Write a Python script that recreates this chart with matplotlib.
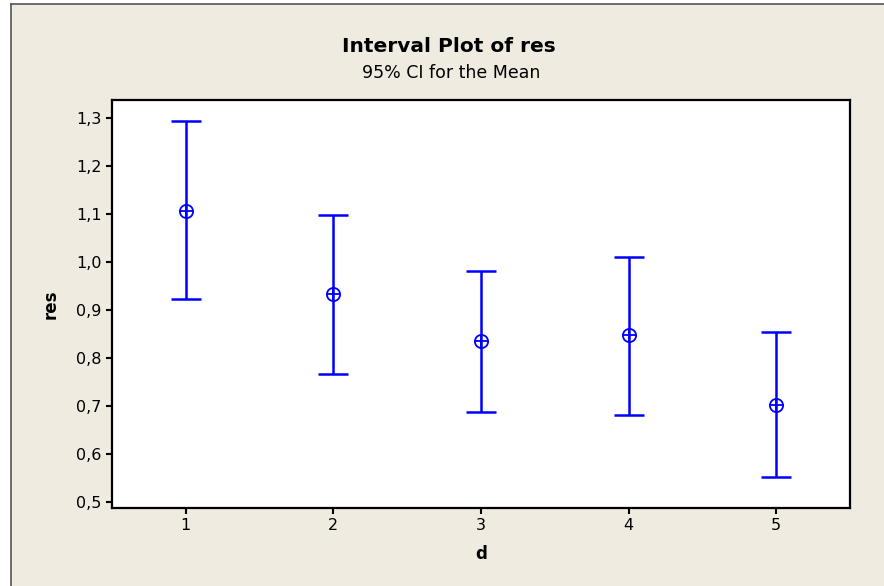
import matplotlib
matplotlib.use("Agg")
import matplotlib.pyplot as plt
from matplotlib.patches import Rectangle
from matplotlib.lines import Line2D

# Interval plot data
d_levels = [1, 2, 3, 4, 5]
res_mean = [1.106, 0.933, 0.835, 0.847, 0.702]
ci_lower = [0.922, 0.767, 0.688, 0.682, 0.553]
ci_upper = [1.294, 1.097, 0.980, 1.011, 0.853]

y_ticks = [0.5, 0.6, 0.7, 0.8, 0.9, 1.0, 1.1, 1.2, 1.3]
y_tick_labels = ["0,5", "0,6", "0,7", "0,8", "0,9", "1,0", "1,1", "1,2", "1,3"]
x_tick_labels = ["1", "2", "3", "4", "5"]

BLUE = "#0000FF"
BEIGE = "#EFEBE1"
W, H = 884, 586

fig = plt.figure(figsize=(W / 100, H / 100), dpi=100, facecolor="white")

# window background with dark left/top frame (kept behind the axes)
fig.patches.append(Rectangle((11 / W, 0), 1, 1 - 4 / H, transform=fig.transFigure,
                             facecolor=BEIGE, edgecolor="none", zorder=-10))
fig.add_artist(Line2D([11 / W, 11 / W], [0, 1 - 4 / H], transform=fig.transFigure,
                      color="#555555", lw=1.2, zorder=-9))
fig.add_artist(Line2D([11 / W, 1], [1 - 4 / H, 1 - 4 / H], transform=fig.transFigure,
                      color="#555555", lw=1.2, zorder=-9))

ax = fig.add_axes([112 / W, 1 - 508 / H, (850 - 112) / W, (508 - 100) / H])
ax.set_facecolor("white")

yerr = [[m - lo for m, lo in zip(res_mean, ci_lower)],
        [hi - m for m, hi in zip(res_mean, ci_upper)]]
ax.errorbar(d_levels, res_mean, yerr=yerr, fmt="none", ecolor=BLUE,
            elinewidth=1.8, capsize=10.6, capthick=1.8, zorder=3)
ax.plot(d_levels, res_mean, linestyle="none", marker="o", markersize=9.5,
        markerfacecolor="none", markeredgecolor=BLUE, markeredgewidth=1.3, zorder=4)
ax.plot(d_levels, res_mean, linestyle="none", marker="+", markersize=9.5,
        markeredgecolor=BLUE, markeredgewidth=1.3, zorder=4)

ax.set_xlim(0.5, 5.5)
ax.set_ylim(0.4876, 1.3367)
ax.set_xticks(d_levels)
ax.set_xticklabels(x_tick_labels)
ax.set_yticks(y_ticks)
ax.set_yticklabels(y_tick_labels)

for s in ax.spines.values():
    s.set_linewidth(1.6)
ax.tick_params(direction="out", length=4.5, width=1.5, labelsize=11.5, pad=3)

ax.set_xlabel("d", fontsize=12, fontweight="bold", labelpad=8)
ax.set_ylabel("res", fontsize=12, fontweight="bold", labelpad=12)

fig.text(449 / W, 1 - 47 / H, "Interval Plot of res", ha="center", va="center",
         fontsize=14.5, fontweight="bold")
fig.text(451 / W, 1 - 73 / H, "95% CI for the Mean", ha="center", va="center",
         fontsize=12.5)

fig.savefig("out.png", dpi=100, facecolor=fig.get_facecolor())
